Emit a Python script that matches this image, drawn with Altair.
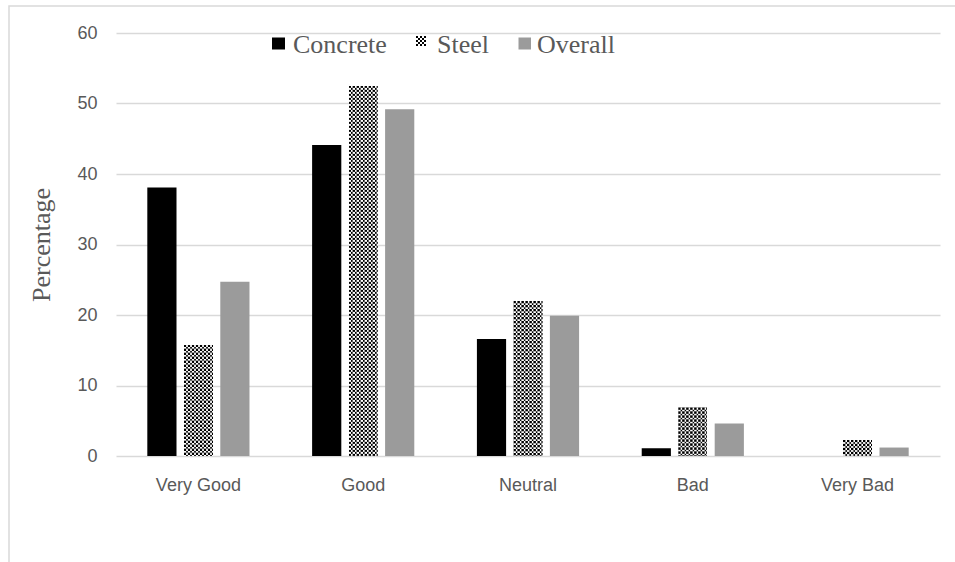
import urllib.parse

import altair as alt
import pandas as pd

# Survey ratings by structure type (percent of respondents)
categories = ["Very Good", "Good", "Neutral", "Bad", "Very Bad"]
series = ["Concrete", "Steel", "Overall"]
concrete = [38.1, 44.1, 16.6, 1.1, 0.0]
steel = [15.8, 52.5, 22.0, 6.9, 2.3]
overall = [24.7, 49.2, 19.9, 4.6, 1.2]
y_ticks = [0, 10, 20, 30, 40, 50, 60]

rows = []
for name, vals in zip(series, [concrete, steel, overall]):
    for cat, val in zip(categories, vals):
        rows.append({"category": cat, "series": name, "value": val, "base": 0})
df = pd.DataFrame(rows)

GRID = "#d9d9d9"
TEXT = "#595959"
SANS = "Liberation Sans"
SERIF = "Liberation Serif"

# Checkerboard fill for the Steel series, drawn as an SVG image that tiles at fixed pixel size
checker_svg = (
    "<svg xmlns='http://www.w3.org/2000/svg' width='100%' height='100%' "
    "shape-rendering='crispEdges'>"
    "<defs><pattern id='c' width='4' height='4' patternUnits='userSpaceOnUse'>"
    "<rect width='4' height='4' fill='#000000'/>"
    "<rect x='2' y='0' width='2' height='2' fill='#ffffff'/>"
    "<rect x='0' y='2' width='2' height='2' fill='#ffffff'/>"
    "</pattern></defs>"
    "<rect width='100%' height='100%' fill='url(#c)'/></svg>"
)
checker_url = "data:image/svg+xml;charset=utf-8," + urllib.parse.quote(checker_svg)

x_enc = alt.X(
    "category:N",
    sort=categories,
    scale=alt.Scale(paddingInner=0.38, paddingOuter=0.19),
    axis=alt.Axis(
        title=None,
        labelAngle=0,
        domain=False,
        ticks=False,
        labelFont=SANS,
        labelFontSize=18,
        labelColor=TEXT,
        labelPadding=20,
    ),
)
xoff_enc = alt.XOffset(
    "series:N",
    sort=series,
    scale=alt.Scale(domain=series, paddingInner=0.2, paddingOuter=0),
)
y_enc = alt.Y(
    "value:Q",
    scale=alt.Scale(domain=[0, 60], nice=False),
    axis=alt.Axis(
        values=y_ticks,
        grid=True,
        gridColor=GRID,
        gridWidth=1.5,
        domain=False,
        ticks=False,
        tickSize=0,
        labelFont=SANS,
        labelFontSize=18,
        labelColor=TEXT,
        labelPadding=19,
        title="Percentage",
        titleFont=SERIF,
        titleFontSize=26,
        titleFontWeight="normal",
        titleColor=TEXT,
        titlePadding=22,
    ),
)

base = alt.Chart(df)

solid_bars = (
    base.transform_filter(alt.datum.series != "Steel")
    .mark_bar()
    .encode(
        x=x_enc,
        xOffset=xoff_enc,
        y=y_enc,
        y2=alt.Y2("base:Q"),
        color=alt.Color(
            "series:N",
            scale=alt.Scale(domain=["Concrete", "Overall"], range=["#000000", "#9b9b9b"]),
            legend=None,
        ),
    )
)

checker_bars = (
    base.transform_filter(alt.datum.series == "Steel")
    .mark_image(aspect=False)
    .encode(
        x=x_enc,
        xOffset=xoff_enc,
        y=y_enc,
        y2=alt.Y2("base:Q"),
        url=alt.value(checker_url),
    )
)

# Light frame around the figure
frame = (
    alt.Chart(pd.DataFrame({"k": [0]}))
    .mark_rect(fill="transparent", stroke=GRID, strokeWidth=1.5)
    .encode(
        x=alt.value(-107),
        x2=alt.value(850),
        y=alt.value(-27),
        y2=alt.value(540),
    )
)

# Legend along the top of the plot
legend_df = pd.DataFrame({"label": series})


def legend_text(name, x):
    return (
        alt.Chart(legend_df)
        .transform_filter(alt.datum.label == name)
        .mark_text(
            align="left",
            baseline="alphabetic",
            font=SERIF,
            fontSize=26,
            color=TEXT,
        )
        .encode(x=alt.value(x), y=alt.value(19.5), text="label:N")
    )


def legend_box(x0, x1, y0, y1, color):
    return (
        alt.Chart(pd.DataFrame({"k": [0]}))
        .mark_rect(color=color)
        .encode(x=alt.value(x0), x2=alt.value(x1), y=alt.value(y0), y2=alt.value(y1))
    )


legend_checker = (
    alt.Chart(pd.DataFrame({"k": [0]}))
    .mark_image(aspect=False)
    .encode(
        x=alt.value(300),
        x2=alt.value(310),
        y=alt.value(3),
        y2=alt.value(13),
        url=alt.value(checker_url),
    )
)

legend = alt.layer(
    legend_box(156, 169, 4.5, 16.5, "#000000"),
    legend_text("Concrete", 177),
    legend_checker,
    legend_text("Steel", 321),
    legend_box(402.5, 415, 4.5, 16.5, "#9b9b9b"),
    legend_text("Overall", 421),
)

chart = (
    alt.layer(frame, solid_bars, checker_bars, legend)
    .properties(
        width=824,
        height=423,
        autosize=alt.AutoSizeParams(type="none"),
        padding={"left": 116, "top": 33, "right": 15, "bottom": 106},
        background="white",
    )
    .configure_view(strokeWidth=0)
)

chart.save("out.html", embed_options={"renderer": "svg", "actions": False})
